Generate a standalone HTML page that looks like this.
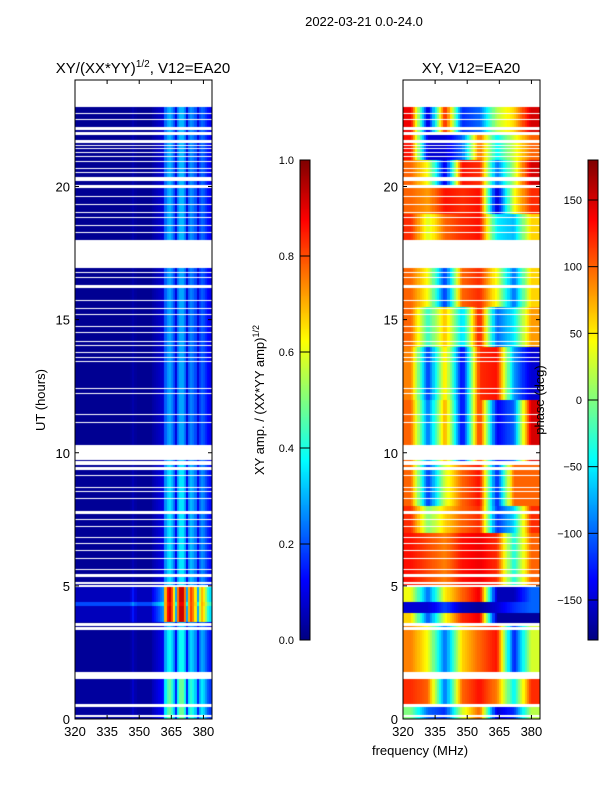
<!DOCTYPE html>
<html><head><meta charset="utf-8">
<style>
html,body{margin:0;padding:0;background:#fff;}
#root{position:relative;width:600px;height:800px;font-family:"Liberation Sans","DejaVu Sans",sans-serif;color:#000;}
canvas{position:absolute;}
svg{position:absolute;left:0;top:0;}
</style></head>
<body>
<div id="root">
<canvas id="ampCanvas" style="left:75px;top:80px" width="137" height="639"></canvas>
<canvas id="phCanvas" style="left:403px;top:80px" width="137" height="639"></canvas>
<canvas id="cb1" style="left:300px;top:160px" width="10" height="480"></canvas>
<canvas id="cb2" style="left:588px;top:160px" width="10" height="480"></canvas>
<svg id="axes" width="600" height="800"></svg>
</div>
<script>
// ---- data ----
const timeRange=[0,24];
const freqRange=[320,384];
const xTicks=[320,335,350,365,380];
const yTicks=[0,5,10,15,20];
const ampTicks=[0.0,0.2,0.4,0.6,0.8,1.0];
const phaseTicks=[-150,-100,-50,0,50,100,150];
const dataSpan=[0.0,23.0];
const gaps=[[0.08,0.15],[0.45,0.55],[1.5,1.75],[3.35,3.45],[3.5,3.6],[4.95,5.02],[5.08,5.15],[5.35,5.45],[5.6,5.65],[6.0,6.05],[6.3,6.35],[6.55,6.6],[6.8,6.85],[7.2,7.25],[7.45,7.5],[7.7,7.8],[8.25,8.3],[8.5,8.55],[8.65,8.7],[9.1,9.15],[9.35,9.45],[9.55,9.7],[9.75,10.3],[11.1,11.15],[11.4,11.45],[12.2,12.25],[12.4,12.45],[13.4,13.45],[13.55,13.6],[13.75,13.8],[14.0,14.05],[14.15,14.2],[14.5,14.55],[14.7,14.75],[15.15,15.2],[15.4,15.45],[15.7,15.75],[16.2,16.3],[16.55,16.6],[16.75,16.8],[16.95,18.0],[18.25,18.3],[18.5,18.55],[18.8,18.85],[19.0,19.05],[19.3,19.35],[19.6,19.65],[19.95,20.05],[20.2,20.35],[20.5,20.55],[20.65,20.7],[20.9,20.95],[21.1,21.15],[21.25,21.3],[21.4,21.45],[21.5,21.55],[21.65,21.75],[21.95,22.05],[22.15,22.25],[22.5,22.55],[22.7,22.75]];
// amplitude profile per 1 MHz column (320..383)
const ampCol=[0.02,0.02,0.02,0.02,0.02,0.02,0.02,0.02,0.02,0.02,0.02,0.02,0.02,0.02,0.02,0.02,0.02,0.02,0.02,0.02,0.02,0.02,0.02,0.02,0.02,0.02,0.03,0.05,0.03,0.02,0.02,0.02,0.02,0.02,0.02,0.02,0.04,0.05,0.06,0.07,0.08,0.09,0.24,0.30,0.32,0.28,0.22,0.10,0.26,0.32,0.32,0.26,0.10,0.24,0.28,0.26,0.22,0.10,0.20,0.24,0.22,0.18,0.14,0.12];
// amplitude row segments: [t0,t1,gain,offset]
const ampRowGain=[[0,1.6,1.5,0],[1.7,3.4,1.2,0],[3.65,5.0,2.9,0],[4.25,4.4,0.8,0.15],[5.0,9.6,1.1,0],[10.3,17.0,0.9,0],[18.0,23.0,0.95,0]];
// phase (deg) per time segment over 8 freq bands (8 MHz wide)
const phaseSeg=[
[0,0.6,[0,-100,-120,30,100,-150,-120,20]],
[0.6,1.6,[120,100,-100,100,130,90,-50,120]],
[1.6,3.5,[90,40,-100,60,100,130,-130,30]],
[3.5,4.0,[60,-110,40,120,140,-170,-170,-170]],
[4.0,4.4,[-150,-150,-110,-160,-170,-150,-120,-100]],
[4.4,5.0,[40,-100,50,100,140,-160,-160,-100]],
[5.0,7.0,[130,110,90,130,140,120,-40,100]],
[7.0,8.0,[120,0,60,100,120,-120,-60,120]],
[8.0,9.6,[100,-120,30,100,130,-130,100,100]],
[9.6,12.0,[100,-100,80,-140,120,-140,-100,150]],
[12.0,14.0,[90,-120,60,-140,120,130,-80,-150]],
[14.0,15.5,[100,-30,70,-60,130,-100,-50,80]],
[15.5,17.0,[100,40,-120,100,120,40,-100,60]],
[17.0,19.0,[120,30,100,120,130,-50,-70,60]],
[19.0,20.0,[100,80,130,120,130,-160,40,120]],
[20.0,21.0,[100,40,-150,130,120,-100,20,150]],
[21.0,22.0,[130,-150,-150,-100,100,-50,30,100]],
[22.0,23.0,[140,-160,130,-120,-100,20,60,150]]];

// ---- helpers ----
function jet(v){v=Math.max(0,Math.min(1,v));
 const r=Math.max(0,Math.min(1,1.5-Math.abs(4*v-3)));
 const g=Math.max(0,Math.min(1,1.5-Math.abs(4*v-2)));
 const b=Math.max(0,Math.min(1,1.5-Math.abs(4*v-1)));
 return 'rgb('+Math.round(r*255)+','+Math.round(g*255)+','+Math.round(b*255)+')';}
const AX={w:137,h:639};
function xs(f){return (f-freqRange[0])/(freqRange[1]-freqRange[0])*AX.w;}
function ys(t){return AX.h-(t-timeRange[0])/(timeRange[1]-timeRange[0])*AX.h;}
const dt=0.05;
function ampAt(t,c){let v=ampCol[c];for(const s of ampRowGain){if(t>=s[0]&&t<s[1]){v=v*s[2]+s[3];}}return v;}
function phaseAt(t,f){let seg=phaseSeg[phaseSeg.length-1];for(const s of phaseSeg){if(t>=s[0]&&t<s[1]){seg=s;break;}}
 const p=(f-freqRange[0])/8-0.5;const i0=Math.max(0,Math.min(7,Math.floor(p)));const i1=Math.min(7,i0+1);
 const w=Math.max(0,Math.min(1,p-i0));
 return seg[2][i0]*(1-w)+seg[2][i1]*w;}

// ---- draw heatmaps ----
const ac=document.getElementById('ampCanvas').getContext('2d');
const pc=document.getElementById('phCanvas').getContext('2d');
const nRows=Math.round((dataSpan[1]-dataSpan[0])/dt);
for(let i=0;i<nRows;i++){
 const t=dataSpan[0]+i*dt;
 const y0=ys(t+dt),y1=ys(t);
 for(let c=0;c<ampCol.length;c++){
  const f=freqRange[0]+c;
  const x0=xs(f),x1=xs(f+1);
  ac.fillStyle=jet(ampAt(t+dt/2,c));
  ac.fillRect(Math.floor(x0),Math.floor(y0),Math.ceil(x1)-Math.floor(x0),Math.ceil(y1)-Math.floor(y0));
  pc.fillStyle=jet((phaseAt(t+dt/2,f+0.5)+180)/360);
  pc.fillRect(Math.floor(x0),Math.floor(y0),Math.ceil(x1)-Math.floor(x0),Math.ceil(y1)-Math.floor(y0));
 }
}
// blank gaps (flagged data)
for(const ctx of [ac,pc]){
 ctx.fillStyle='#fff';
 ctx.fillRect(0,0,AX.w,Math.ceil(ys(dataSpan[1])));
 for(const g of gaps){const ya=ys(g[1]),yb=ys(g[0]);ctx.fillRect(0,Math.round(ya),AX.w,Math.max(1,Math.round(yb-ya)));}
}
// colorbars
const c1=document.getElementById('cb1').getContext('2d');
const c2=document.getElementById('cb2').getContext('2d');
for(let i=0;i<480;i++){const v=1-i/480;c1.fillStyle=jet(v);c1.fillRect(0,i,10,1);c2.fillStyle=jet(v);c2.fillRect(0,i,10,1);}

// ---- axes svg ----
const svg=document.getElementById('axes');const NS='http://www.w3.org/2000/svg';
function el(tag,attrs,txt){const e=document.createElementNS(NS,tag);for(const k in attrs)e.setAttribute(k,attrs[k]);if(txt!==undefined)e.textContent=txt;svg.appendChild(e);return e;}
function panel(x0,prefix){
 const r=el('rect',{x:x0,y:80,width:137,height:639,fill:'none',stroke:'#000','stroke-width':1});
 
 for(const f of xTicks){const x=x0+xs(f);
  const l1=el('line',{x1:x,x2:x,y1:719,y2:715,stroke:'#000'});
  const l2=el('line',{x1:x,x2:x,y1:80,y2:84,stroke:'#000'});
  const t=el('text',{x:x,y:736,'font-size':13,'text-anchor':'middle'},String(f));}
 for(const h of yTicks){const y=80+ys(h);
  const l1=el('line',{x1:x0,x2:x0+4,y1:y,y2:y,stroke:'#000'});
  const l2=el('line',{x1:x0+137,x2:x0+133,y1:y,y2:y,stroke:'#000'});
  const t=el('text',{x:x0-5,y:y+5,'font-size':13,'text-anchor':'end'},String(h));}
}
panel(75,'amp');panel(403,'phase');
function cbar(x0,prefix,ticks,vmin,vmax){
 const r=el('rect',{x:x0,y:160,width:10,height:480,fill:'none',stroke:'#000'});
 for(const v of ticks){const y=640-(v-vmin)/(vmax-vmin)*480;
  const l=el('line',{x1:x0,x2:x0+10,y1:y,y2:y,stroke:'#000'});
  const lab=(prefix==='amp')?v.toFixed(1):(v<0?'\u2212'+Math.abs(v):String(v));
  const t=el('text',{x:x0-6,y:y+4,'font-size':11,'text-anchor':'end'},lab);}
}
cbar(300,'amp',ampTicks,0,1);cbar(588,'phase',phaseTicks,-180,180);
</script>
<svg width="600" height="800" style="position:absolute;left:0;top:0;pointer-events:none">
<text x="364" y="26" font-size="13" text-anchor="middle" font-family="Liberation Sans, sans-serif">2022-03-21 0.0-24.0</text>
<text x="143" y="73" font-size="15" text-anchor="middle" font-family="Liberation Sans, sans-serif">XY/(XX*YY)<tspan dy="-6" font-size="10">1/2</tspan><tspan dy="6">, V12=EA20</tspan></text>
<text x="471" y="73" font-size="15" text-anchor="middle" font-family="Liberation Sans, sans-serif">XY, V12=EA20</text>
<text x="45" y="400" font-size="13" text-anchor="middle" transform="rotate(-90 45 400)" font-family="Liberation Sans, sans-serif">UT (hours)</text>
<text x="420" y="755" font-size="13" text-anchor="middle" font-family="Liberation Sans, sans-serif">frequency (MHz)</text>
<text x="264" y="400" font-size="13" text-anchor="middle" transform="rotate(-90 264 400)" font-family="Liberation Sans, sans-serif">XY amp. / (XX*YY amp)<tspan dy="-5" font-size="9">1/2</tspan></text>
<text x="544" y="400" font-size="13" text-anchor="middle" transform="rotate(-90 544 400)" font-family="Liberation Sans, sans-serif">phase (deg)</text>
</svg>
</body></html>
